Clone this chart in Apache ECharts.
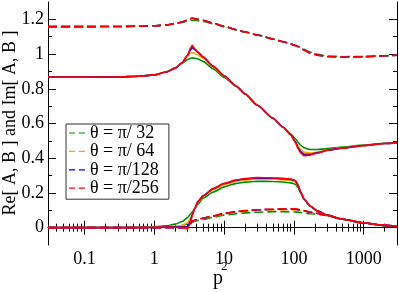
<!DOCTYPE html>
<html>
<head>
<meta charset="utf-8">
<script src="https://cdn.jsdelivr.net/npm/echarts@6/dist/echarts.min.js"></script>
<style>html,body{margin:0;padding:0;background:#fff;}#c{width:399px;height:292px;}</style>
</head>
<body>
<div id="c"></div>
<script>
// p^2 sample points
var P2 = [0.03,0.1,0.3,0.6,1,1.5,2,2.5,3,3.3,3.5,3.8,4.2,5,7,10,15,20,30,50,70,90,105,115,125,140,170,220,300,500,1000,2000,3000];

// Re[A] (dashed, upper)
var reA_32  = [1.158,1.158,1.159,1.160,1.163,1.168,1.175,1.183,1.190,1.194,1.195,1.194,1.192,1.188,1.175,1.158,1.139,1.127,1.110,1.087,1.071,1.059,1.051,1.045,1.038,1.028,1.012,0.998,0.989,0.985,0.986,0.990,0.993];
var reA_64  = [1.158,1.158,1.159,1.160,1.163,1.168,1.175,1.185,1.195,1.201,1.203,1.201,1.198,1.192,1.177,1.160,1.140,1.127,1.110,1.087,1.071,1.058,1.049,1.042,1.034,1.023,1.007,0.994,0.986,0.983,0.985,0.990,0.993];
var reA_128 = [1.158,1.158,1.159,1.160,1.163,1.168,1.175,1.185,1.196,1.203,1.206,1.204,1.200,1.193,1.178,1.160,1.140,1.127,1.110,1.087,1.071,1.058,1.049,1.042,1.034,1.023,1.007,0.994,0.986,0.983,0.985,0.990,0.993];
var reA_256 = [1.158,1.158,1.159,1.160,1.163,1.168,1.175,1.185,1.197,1.205,1.208,1.205,1.201,1.194,1.178,1.160,1.140,1.127,1.110,1.087,1.071,1.058,1.049,1.042,1.034,1.023,1.007,0.994,0.986,0.983,0.985,0.990,0.993];

// Re[B] (solid, middle)
var reB_32  = [0.867,0.867,0.868,0.872,0.881,0.899,0.922,0.947,0.968,0.976,0.978,0.976,0.972,0.958,0.915,0.866,0.812,0.769,0.705,0.631,0.580,0.541,0.512,0.492,0.475,0.460,0.450,0.450,0.455,0.464,0.476,0.486,0.490];
var reB_64  = [0.867,0.867,0.868,0.872,0.880,0.898,0.920,0.950,0.988,1.005,1.010,1.003,0.995,0.975,0.925,0.873,0.815,0.770,0.705,0.630,0.578,0.537,0.500,0.472,0.450,0.435,0.430,0.436,0.448,0.460,0.474,0.485,0.490];
var reB_128 = [0.867,0.867,0.868,0.872,0.880,0.897,0.918,0.950,0.993,1.025,1.037,1.025,1.010,0.983,0.929,0.875,0.815,0.770,0.705,0.630,0.578,0.536,0.495,0.462,0.438,0.422,0.422,0.432,0.446,0.459,0.473,0.485,0.490];
var reB_256 = [0.867,0.867,0.868,0.872,0.880,0.897,0.918,0.950,0.995,1.035,1.050,1.030,1.013,0.985,0.930,0.875,0.815,0.770,0.705,0.630,0.578,0.535,0.490,0.455,0.430,0.415,0.418,0.430,0.445,0.458,0.472,0.485,0.490];

// Im[A] (solid, lower)
var imA_32  = [0,0,0.001,0.002,0.005,0.010,0.020,0.035,0.058,0.078,0.090,0.110,0.135,0.170,0.205,0.235,0.255,0.262,0.267,0.266,0.263,0.258,0.250,0.230,0.198,0.162,0.125,0.095,0.072,0.048,0.027,0.013,0.007];
var imA_64  = [0,0,0,0.001,0.002,0.005,0.008,0.012,0.030,0.055,0.080,0.112,0.145,0.180,0.220,0.248,0.267,0.275,0.280,0.279,0.276,0.272,0.264,0.240,0.203,0.163,0.125,0.095,0.072,0.048,0.027,0.013,0.007];
var imA_128 = [0,0,0,0,0.001,0.003,0.004,0.003,0.005,0.040,0.075,0.112,0.148,0.183,0.225,0.254,0.273,0.281,0.286,0.285,0.282,0.278,0.270,0.244,0.205,0.164,0.125,0.095,0.072,0.048,0.027,0.013,0.007];
var imA_256 = [0,0,0,0,0.001,0.002,0.002,0,-0.008,0.030,0.070,0.110,0.150,0.185,0.225,0.255,0.275,0.283,0.288,0.287,0.284,0.280,0.272,0.245,0.205,0.165,0.125,0.095,0.072,0.048,0.027,0.013,0.007];

// Im[B] (dashed, lower)
var imB_32  = [0,0,0,0,0.001,0.003,0.006,0.012,0.022,0.028,0.032,0.037,0.041,0.047,0.060,0.072,0.081,0.085,0.089,0.092,0.092,0.091,0.090,0.089,0.087,0.084,0.080,0.077,0.070,0.048,0.027,0.013,0.007];
var imB_64  = [0,0,0,0,0,0.001,0.002,0.003,0.008,0.022,0.033,0.040,0.045,0.052,0.065,0.078,0.089,0.094,0.099,0.102,0.103,0.103,0.102,0.101,0.099,0.095,0.088,0.081,0.070,0.048,0.027,0.013,0.007];
var imB_128 = [0,0,0,0,0,0,0,0,0.002,0.024,0.036,0.043,0.047,0.054,0.067,0.081,0.092,0.097,0.102,0.106,0.107,0.107,0.106,0.104,0.101,0.097,0.089,0.082,0.070,0.048,0.027,0.013,0.007];
var imB_256 = [0,0,0,0,0,0,0,0,0,0.025,0.038,0.044,0.048,0.055,0.068,0.082,0.093,0.098,0.103,0.107,0.108,0.109,0.108,0.106,0.103,0.098,0.090,0.082,0.070,0.048,0.027,0.013,0.007];

var thetaNames = ['θ = π/ 32','θ = π/ 64','θ = π/128','θ = π/256'];
var xTitle = 'p';
var xTitleSup = '2';
var yTitle = 'Re[ A, B ] and Im[ A, B ]';
var colors = ['#008b00','#ffa500','#0000ff','#ff0000'];
var xMajor = [0.1,1,10,100,1000];
var yMajor = [0,0.2,0.4,0.6,0.8,1,1.2];
var yMinor = [0.1,0.3,0.5,0.7,0.9,1.1];
var xMinor = [];
[0.01,0.1,1,10,100,1000].forEach(function(d){for(var k=2;k<=9;k++){var v=+(k*d).toPrecision(3); if(v>=0.03&&v<=3000) xMinor.push(v);}});

var groups = [
  {sets:[reA_32,reA_64,reA_128,reA_256], dash:true},
  {sets:[reB_32,reB_64,reB_128,reB_256], dash:false},
  {sets:[imA_32,imA_64,imA_128,imA_256], dash:false},
  {sets:[imB_32,imB_64,imB_128,imB_256], dash:true}
];
var series = [];
groups.forEach(function(g){
  g.sets.forEach(function(arr,i){
    series.push({
      type:'line', name: thetaNames[i], showSymbol:false, symbol:'none', smooth:0.2, smoothMonotone:'x',
      data: P2.map(function(x,j){return [x,arr[j]];}),
      lineStyle:{color:colors[i], width:1.6, type: g.dash ? [9,4] : 'solid'},
      itemStyle:{color:colors[i]},
      z: 2+i
    });
  });
});

var FONT = '"Liberation Serif", "DejaVu Serif", serif';
function xAx(pos, vals, len, showLine, showLabel){
  return {type:'log', logBase:10, min:0.03, max:3000, position:pos, gridIndex:0,
    axisLine:{show:showLine, lineStyle:{color:'#000', width:1}},
    axisTick:{show:true, inside:true, length:len, customValues: vals, lineStyle:{color:'#000', width:1}},
    axisLabel:{show:showLabel, customValues: vals, margin:5, fontFamily:FONT, fontSize:18, color:'#000', formatter:function(v){return String(+v.toPrecision(3));}},
    splitLine:{show:false}, minorTick:{show:false}};
}
function yAx(pos, vals, len, showLine, showLabel){
  return {type:'value', min:-0.1, max:1.3, position:pos, gridIndex:0,
    axisLine:{show:showLine, onZero:false, lineStyle:{color:'#000', width:1}},
    axisTick:{show:true, inside:true, length:len, customValues: vals, lineStyle:{color:'#000', width:1}},
    axisLabel:{show:showLabel, customValues: vals, margin:4, fontFamily:FONT, fontSize:18, color:'#000', formatter:function(v){return String(+v.toFixed(1));}},
    splitLine:{show:false}};
}

var option = {
  animation:false,
  backgroundColor:'#fff',
  grid:{left:48, right:2, top:2, bottom:47, containLabel:false, outerBoundsMode:'none'},
  xAxis:[xAx('bottom', xMajor, 7, true, true), xAx('bottom', xMinor, 4, false, false), xAx('top', xMajor, 7, true, false), xAx('top', xMinor, 4, false, false)],
  yAxis:[yAx('left', yMajor, 8, true, true), yAx('left', yMinor, 4, false, false), yAx('right', yMajor, 8, true, false), yAx('right', yMinor, 4, false, false)],
  legend:{
    data: thetaNames, orient:'vertical', left:66, top:124,
    icon:'path://M0,0L5,0L5,1L0,1ZM8,0L13,0L13,1L8,1Z',
    padding:[0,10,2,3], itemGap:0.4, itemWidth:16, itemHeight:2,
    backgroundColor:'#fff', borderColor:'#333', borderWidth:1, borderRadius:0,
    textStyle:{fontFamily:FONT, fontSize:18, color:'#000', lineHeight:17},
    inactiveColor:'#ccc'
  },
  graphic:[
    {type:'text', left:213, top:269, style:{text:xTitle, font:'20px "Liberation Serif", serif', fill:'#000'}},
    {type:'text', left:221, top:260, style:{text:xTitleSup, font:'13px "Liberation Serif", serif', fill:'#000'}},
    {type:'text', x:10, y:123, rotation:Math.PI/2, style:{text:yTitle, font:'18px "Liberation Serif", serif', fill:'#000', align:'center', verticalAlign:'middle'}}
  ],
  series: series
};
var chart = echarts.init(document.getElementById('c'), null, {renderer:'canvas'});
chart.setOption(option);
</script>
</body>
</html>
